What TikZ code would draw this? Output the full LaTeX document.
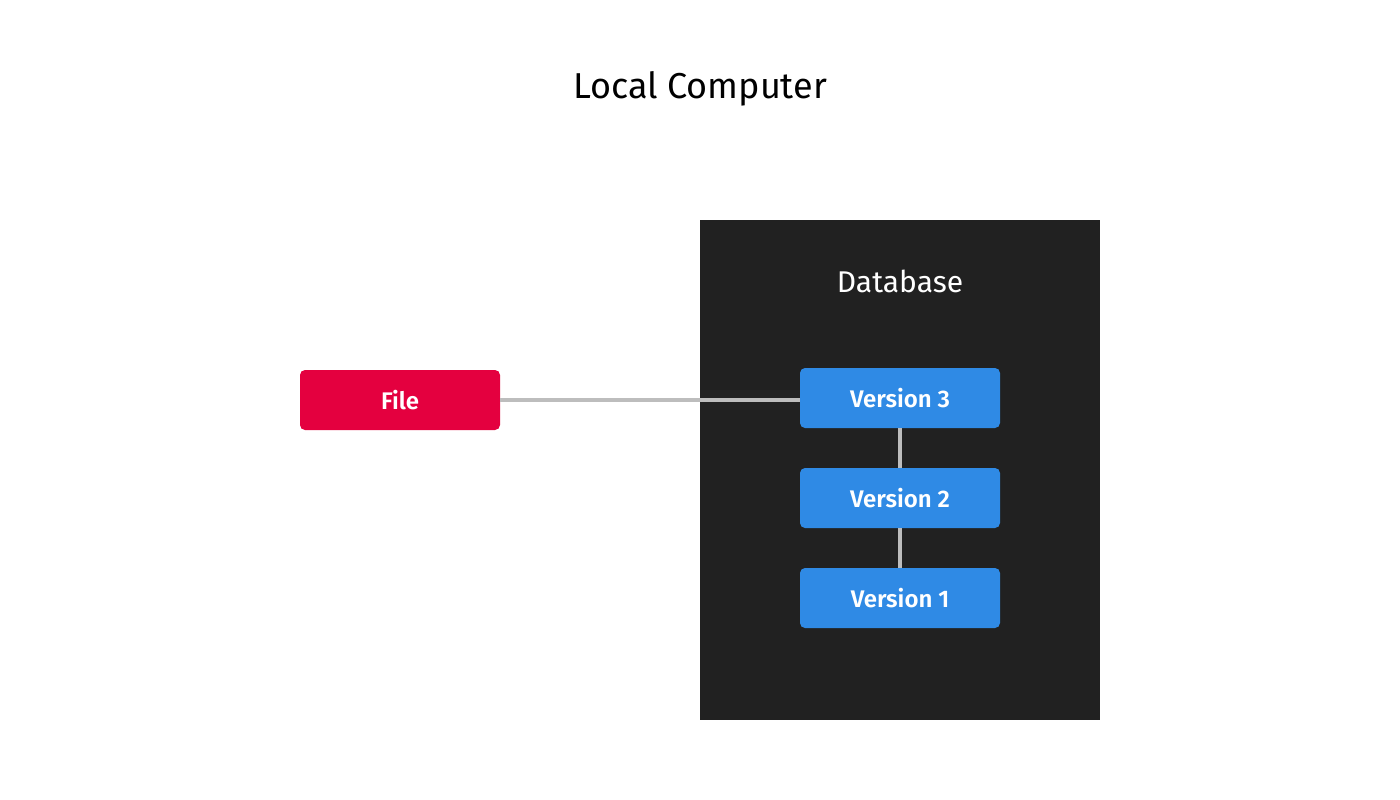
\documentclass[tikz,border=0pt]{standalone}
\usepackage{fontspec}
\setmainfont{Fira Sans}[BoldFont={Fira Sans SemiBold}]
\definecolor{filered}{HTML}{E4003F}
\definecolor{dbdark}{HTML}{212121}
\definecolor{verblue}{HTML}{2F8AE5}
\definecolor{linegrey}{HTML}{BDBDBD}
\tikzset{
  box/.style={minimum width=200pt, minimum height=60pt, rounded corners=5pt, inner sep=0pt, text=white, font=\fontsize{24}{28}\selectfont\bfseries},
  filebox/.style={box, fill=filered},
  verbox/.style={box, fill=verblue},
  conn/.style={draw=linegrey, line width=4pt},
}
\begin{document}
\begin{tikzpicture}[x=1pt,y=-1pt]
\useasboundingbox (0,0) rectangle (1400,800);
\fill[white] (0,0) rectangle (1400,800);
\node[font=\fontsize{36}{42}\selectfont, text=black, anchor=base] (title) at (700,98) {Local Computer};
\node[fill=dbdark, minimum width=400pt, minimum height=500pt, inner sep=0pt] (db) at (900,470) {};
\node[font=\fontsize{30}{36}\selectfont, text=white, anchor=base] (dbtitle) at (900,292) {Database};
\node[filebox] (file) at (400,400) {File};
\node[verbox] (v3) at (900,398) {Version 3};
\node[verbox] (v2) at (900,498) {Version 2};
\node[verbox] (v1) at (900,598) {Version 1};
\draw[conn] (file.east) -- (v3.west |- file.east);
\draw[conn] (v3.south) -- (v2.north);
\draw[conn] (v2.south) -- (v1.north);
\end{tikzpicture}
\end{document}
